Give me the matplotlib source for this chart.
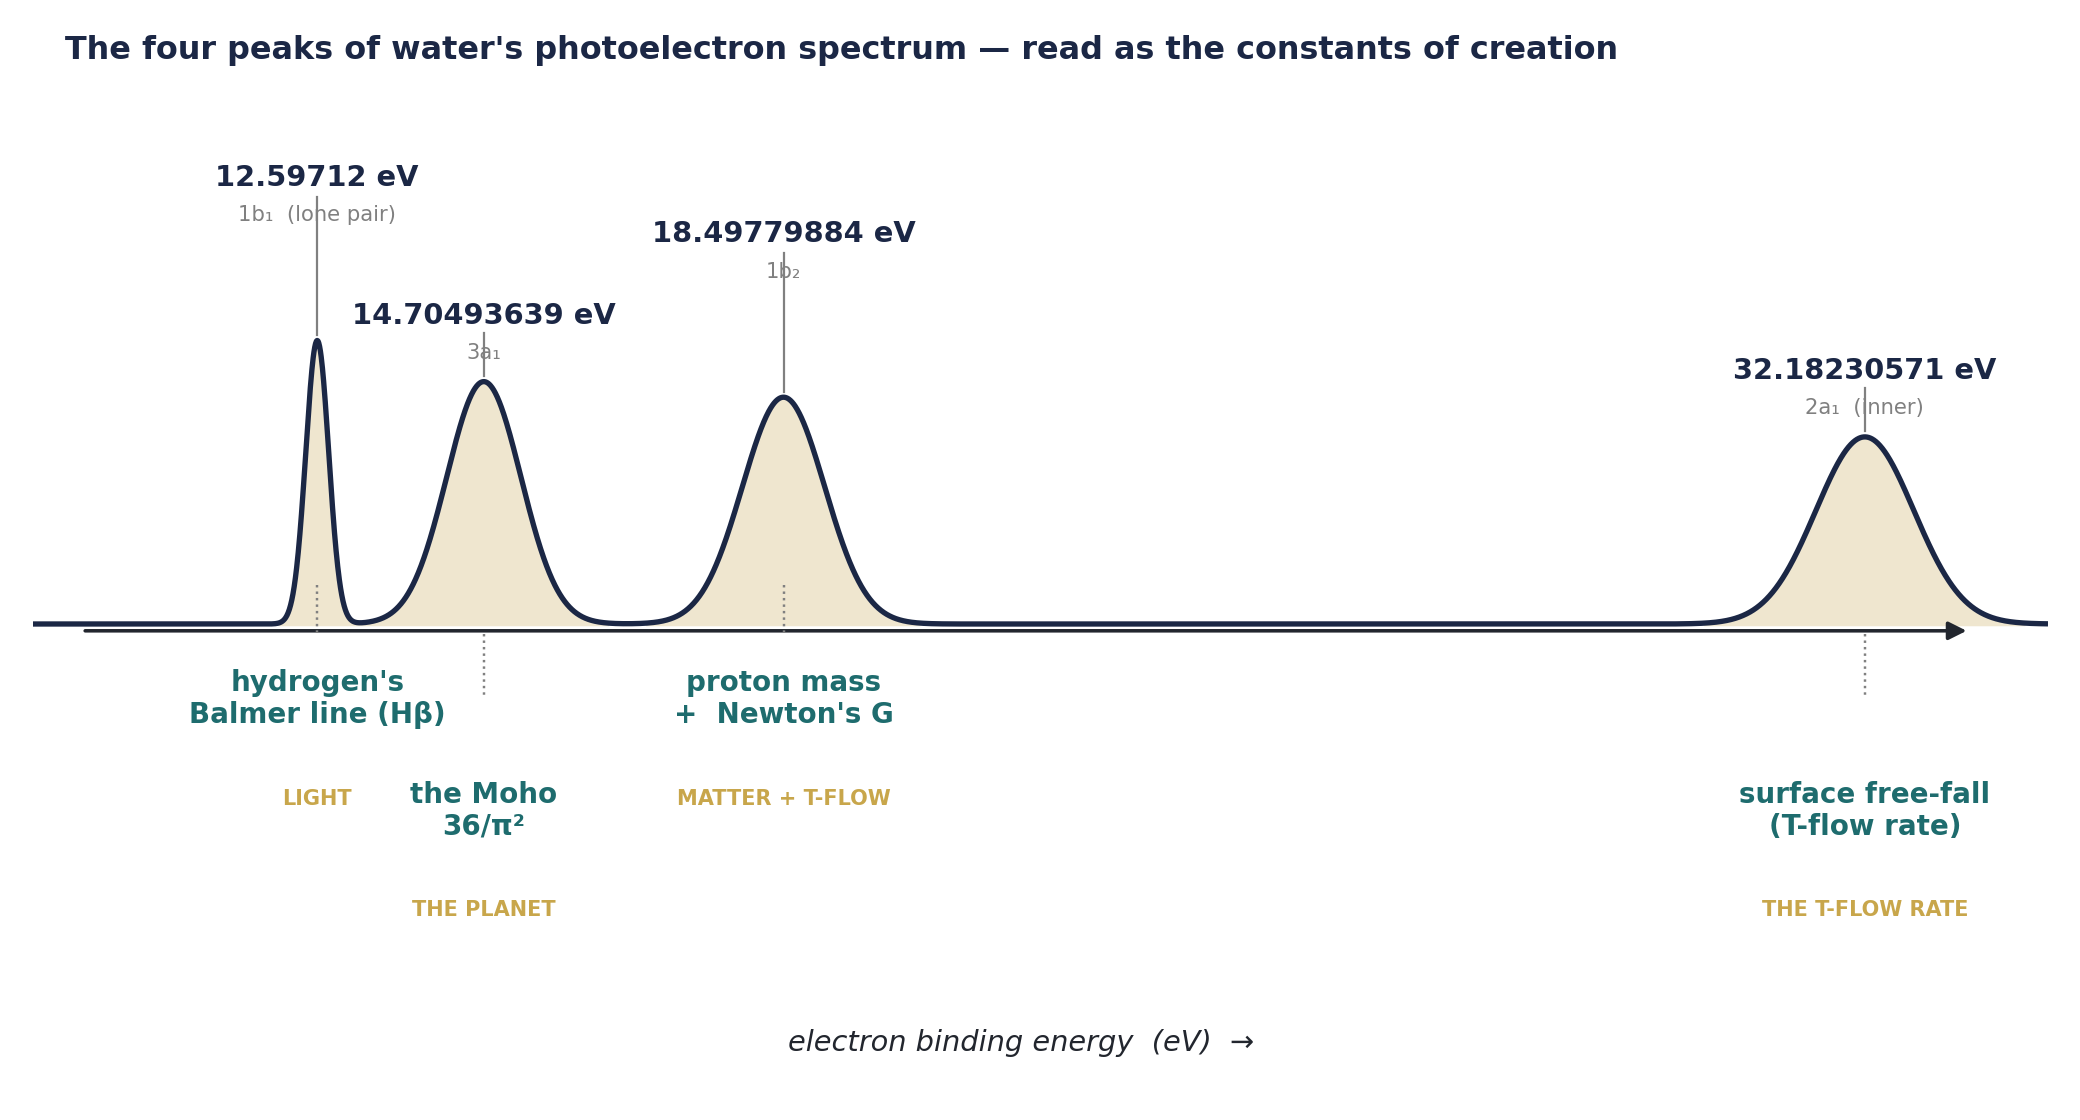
import numpy as np
import matplotlib
matplotlib.use("Agg")
import matplotlib.pyplot as plt

# ---------------- data ----------------
energies = [12.59712, 14.70493639, 18.49779884, 32.18230571]
energy_labels = ["12.59712 eV", "14.70493639 eV", "18.49779884 eV", "32.18230571 eV"]
orbitals = ["1b\u2081  (lone pair)", "3a\u2081", "1b\u2082", "2a\u2081  (inner)"]
amplitudes = [1.0, 0.855, 0.80, 0.66]
widths = [0.145, 0.47, 0.52, 0.62]
meanings = ["hydrogen's\nBalmer line (H\u03b2)", "the Moho\n36/\u03c0\u00b2",
            "proton mass\n+  Newton's G", "surface free-fall\n(T-flow rate)"]
tags = ["LIGHT", "THE PLANET", "MATTER + T-FLOW", "THE T-FLOW RATE"]
title = "The four peaks of water's photoelectron spectrum \u2014 read as the constants of creation"
xlabel = "electron binding energy  (eV)  \u2192"
x_range = (9.0, 34.5)

# ---------------- style ----------------
NAVY = "#1b2745"
TEAL = "#1e6c6e"
GOLD = "#c8a64b"
FILL = "#efe6cf"
GRAY = "#808080"
AXC = "#22262e"

fig = plt.figure(figsize=(13, 7), dpi=160)
ax = fig.add_axes([33 / 2080, 0, 2015 / 2080, 1])
ax.set_xlim(*x_range)
ax.set_ylim(-1.7496, 2.2011)
ax.axis("off")

x = np.linspace(x_range[0], x_range[1], 5000)
y = np.zeros_like(x)
for e, a, w in zip(energies, amplitudes, widths):
    y += a * np.exp(-0.5 * ((x - e) / w) ** 2)

ax.fill_between(x, -0.008, y, where=y > 0.003, color=FILL, lw=0, zorder=1)
ax.plot(x, y, color=NAVY, lw=2.4, zorder=3, solid_capstyle="butt")

# axis arrow
ax.annotate("", xy=(33.47, -0.024), xytext=(9.66, -0.024),
            arrowprops=dict(arrowstyle="-|>", color=AXC, lw=1.6,
                            mutation_scale=17, shrinkA=0, shrinkB=0),
            zorder=2)

for i, (e, a) in enumerate(zip(energies, amplitudes)):
    high = (i % 2 == 0)
    lab_off = 0.574 if high else 0.233
    line_off = 0.507 if high else 0.171
    ax.plot([e, e], [a + 0.02, a + line_off], color=GRAY, lw=1.0, zorder=4)
    ax.text(e, a + lab_off, energy_labels[i], ha="center", va="center",
            fontsize=13, fontweight="bold", color=NAVY, zorder=5)
    ax.text(e, a + lab_off - 0.132, orbitals[i], ha="center", va="center",
            fontsize=9.5, color=GRAY, zorder=3)
    if high:
        ax.plot([e, e], [0.138, -0.03], ls=":", color=GRAY, lw=1.1, zorder=2)
        ty = -0.2646
    else:
        ax.plot([e, e], [-0.035, -0.25], ls=":", color=GRAY, lw=1.1, zorder=2)
        ty = -0.6596
    ax.text(e, ty, meanings[i], ha="center", va="center", fontsize=12.5,
            fontweight="bold", color=TEAL, linespacing=1.15)
    ax.text(e, ty - 0.351, tags[i], ha="center", va="center", fontsize=9.4,
            fontweight="bold", color=GOLD)

ax.text(21.5, -1.478, xlabel, ha="center", va="center",
        fontsize=13, style="italic", color=AXC)

fig.text(0.03125, 0.955, title, ha="left", va="center", fontsize=14.35,
         fontweight="bold", color=NAVY)

fig.savefig("out.png", dpi=160, facecolor="white")
